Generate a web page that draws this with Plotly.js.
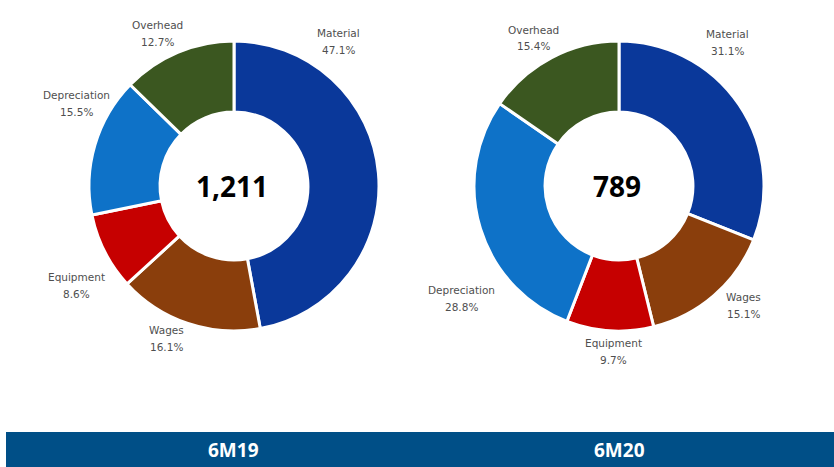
<!DOCTYPE html>
<html>
<head>
<meta charset="utf-8">
<script src="https://cdn.plot.ly/plotly-3.0.1.min.js"></script>
<style>html,body{margin:0;padding:0;background:#fff;}#chart{width:834px;height:467px;}</style>
</head>
<body>
<div id="chart"></div>
<script>
// ---- data ----
const categories = ["Material", "Wages", "Equipment", "Depreciation", "Overhead"];
const values6M19 = [47.1, 16.1, 8.6, 15.5, 12.7];
const values6M20 = [31.1, 15.1, 9.7, 28.8, 15.4];
const totals = ["1,211", "789"];
const periodLabels = ["6M19", "6M20"];

// ---- styles / layout ----
const colors = ["#0a389a", "#8a3e0c", "#c60000", "#0e72c8", "#3b5720"];
const W = 834, H = 467;
const centers = [[234, 186], [619, 186]];
const R = 145;
// label block centres (pixels) for each pie, in category order
const labelPos = [
  [[338, 41], [166, 338], [76, 285], [76, 103], [157, 33]],
  [[727, 42], [743, 305], [613, 351], [461, 298], [533, 38]]
];

function dom(c) {
  return {
    x: [(c[0] - R) / W, (c[0] + R) / W],
    y: [1 - (c[1] + R) / H, 1 - (c[1] - R) / H]
  };
}

const labelFont = { family: "DejaVu Sans", size: 10.5, color: "#4f4f4f" };

const series = [values6M19, values6M20];
const data = series.map((vals, i) => ({
  type: "pie",
  values: vals,
  labels: categories,
  sort: false,
  direction: "clockwise",
  rotation: 0,
  hole: 0.51,
  textinfo: "none",
  hoverinfo: "label+percent",
  marker: { colors: colors, line: { color: "#ffffff", width: 3 } },
  domain: dom(centers[i]),
  showlegend: false
}));

const annotations = [];
series.forEach((vals, i) => {
  categories.forEach((cat, j) => {
    const p = labelPos[i][j];
    annotations.push({
      xref: "paper", yref: "paper", x: p[0] / W, y: 1 - (p[1] - 8) / H,
      text: cat, showarrow: false, xanchor: "center", yanchor: "middle",
      font: labelFont
    });
    annotations.push({
      xref: "paper", yref: "paper", x: p[0] / W, y: 1 - (p[1] + 8.5) / H,
      text: vals[j].toFixed(1) + "%", showarrow: false, xanchor: "center", yanchor: "middle",
      font: labelFont
    });
  });
  annotations.push({
    xref: "paper", yref: "paper", x: (centers[i][0] - 2) / W, y: 1 - centers[i][1] / H,
    text: "<b>" + totals[i] + "</b>", showarrow: false, xanchor: "center", yanchor: "middle",
    font: { family: "Open Sans", size: 28, color: "#000000" }
  });
  annotations.push({
    xref: "paper", yref: "paper", x: centers[i][0] / W, y: 1 - 449.5 / H,
    text: "<b>" + periodLabels[i] + "</b>", showarrow: false, xanchor: "center", yanchor: "middle",
    font: { family: "Open Sans", size: 19, color: "#ffffff" }
  });
});

const layout = {
  width: W, height: H,
  margin: { l: 0, r: 0, t: 0, b: 0 },
  paper_bgcolor: "#ffffff",
  plot_bgcolor: "#ffffff",
  shapes: [{
    type: "rect", xref: "paper", yref: "paper",
    x0: 6 / W, x1: 1, y0: 0, y1: 35 / H,
    fillcolor: "#004f87", line: { width: 0 }, layer: "below"
  }],
  annotations: annotations
};

Plotly.newPlot("chart", data, layout, { displayModeBar: false, staticPlot: true });
</script>
</body>
</html>
